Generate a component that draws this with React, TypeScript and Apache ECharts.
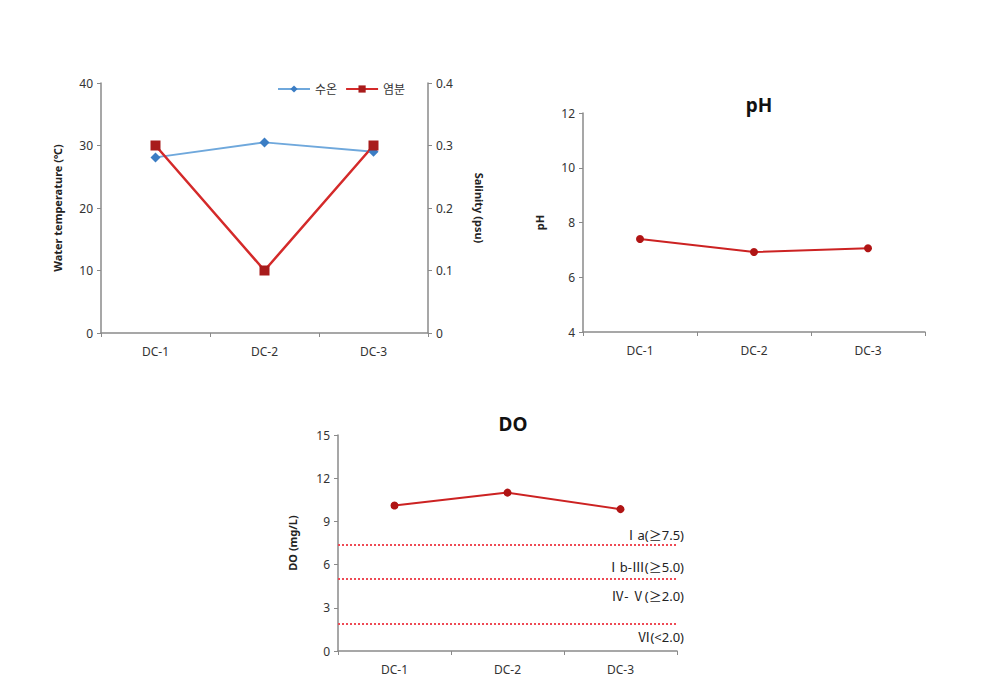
import React, { useEffect, useRef } from "react";
import * as echarts from "echarts";

const categories = ["DC-1", "DC-2", "DC-3"];
const waterTemp = [28.1, 30.5, 29.0];
const salinity = [0.3, 0.1, 0.3];
const phValues = [7.4, 6.92, 7.06];
const doValues = [10.1, 11.0, 9.85];
const doStandards = [7.4, 5.0, 1.9];
const doZoneLabels = ["Ⅰa(≥7.5)", "Ⅰb-Ⅲ(≥5.0)", "Ⅳ- Ⅴ(≥2.0)", "Ⅵ(<2.0)"];
const legendNames = ["수온", "염분"];

const FONT = "'Noto Sans', 'Noto Sans CJK KR', sans-serif";

export default function App() {
  const ref = useRef<HTMLDivElement>(null);
  useEffect(() => {
    if (!ref.current) return;
    const chart = echarts.init(ref.current, null, { renderer: "svg" });
    const axisLine = { show: true, lineStyle: { color: "#8a8a8a", width: 1.5 } };
    const axisLabel = { color: "#333", fontSize: 12, fontFamily: FONT };
    const catAxis = (gridIndex: number) => ({
      type: "category",
      gridIndex,
      data: categories,
      boundaryGap: true,
      axisLine,
      axisTick: { show: true, length: 4, inside: false, lineStyle: { color: "#8a8a8a" } },
      axisLabel: { ...axisLabel, margin: 12 },
    });
    const valAxis = (gridIndex: number, min: number, max: number, interval: number, name: string, nameGap: number, extra: any = {}) => ({
      type: "value",
      gridIndex,
      min,
      max,
      interval,
      name,
      nameLocation: "middle",
      nameGap,
      nameRotate: 90,
      nameTextStyle: { color: "#222", fontSize: 11, fontWeight: "bold", fontFamily: FONT },
      axisLine,
      axisTick: { show: true, length: 4, lineStyle: { color: "#8a8a8a" } },
      axisLabel,
      splitLine: { show: false },
      ...extra,
    });

    const lineSeries = (xi: number, yi: number, data: number[], name?: string) => ({
      type: "line",
      name,
      xAxisIndex: xi,
      yAxisIndex: yi,
      data,
      symbol: "circle",
      symbolSize: 8,
      lineStyle: { color: "#cc2222", width: 2 },
      itemStyle: { color: "#b01414" },
    });

    const dlabel = (text: string, position: string, distance: number) => ({
      show: true,
      formatter: text,
      position,
      distance: [-7, distance],
      color: "#222",
      fontSize: 13,
      fontFamily: FONT,
    });

    chart.setOption({
      animation: false,
      backgroundColor: "#ffffff",
      title: [
        { text: "pH", left: 754, top: 90, textAlign: "center", textStyle: { fontSize: 19, fontWeight: "bold", color: "#111", fontFamily: FONT } },
        { text: "DO", left: 508, top: 409, textAlign: "center", textStyle: { fontSize: 19, fontWeight: "bold", color: "#111", fontFamily: FONT } },
      ],
      legend: {
        left: 272,
        top: 78,
        itemWidth: 32,
        itemHeight: 9,
        itemGap: 8,
        textStyle: { color: "#333", fontSize: 12, fontFamily: FONT },
        data: legendNames,
      },
      grid: [
        { left: 101, top: 83, width: 327, height: 250 },
        { left: 583, top: 113, width: 342, height: 219 },
        { left: 338, top: 435, width: 339, height: 216 },
      ],
      xAxis: [catAxis(0), catAxis(1), catAxis(2)],
      yAxis: [
        valAxis(0, 0, 40, 10, "Water temperature (℃)", 38),
        valAxis(0, 0, 0.4, 0.1, "Salinity (psu)", 46, { position: "right", nameRotate: -90 }),
        valAxis(1, 4, 12, 2, "pH", 38),
        valAxis(2, 0, 15, 3, "DO (mg/L)", 40),
      ],
      series: [
        {
          type: "line",
          name: legendNames[0],
          xAxisIndex: 0,
          yAxisIndex: 0,
          data: waterTemp,
          symbol: "diamond",
          symbolSize: 10,
          lineStyle: { color: "#6fa8dc", width: 2 },
          itemStyle: { color: "#3b7dc4" },
        },
        {
          type: "line",
          name: legendNames[1],
          xAxisIndex: 0,
          yAxisIndex: 1,
          data: salinity,
          symbol: "rect",
          symbolSize: 10,
          lineStyle: { color: "#d42a2a", width: 2.5 },
          itemStyle: { color: "#a81b1b" },
        },
        lineSeries(1, 2, phValues),
        {
          ...lineSeries(2, 3, doValues),
          markLine: {
            silent: true,
            symbol: "none",
            lineStyle: { color: "#ee4a55", width: 2, type: "dotted" },
            data: [
              { yAxis: doStandards[0], label: dlabel(doZoneLabels[0], "insideEndTop", 3) },
              { yAxis: doStandards[1], label: dlabel(doZoneLabels[1], "insideEndTop", 6) },
              { yAxis: doStandards[1], lineStyle: { color: "rgba(255,255,255,0)", width: 0 }, label: dlabel(doZoneLabels[2], "insideEndBottom", 10) },
              { yAxis: doStandards[2], label: dlabel(doZoneLabels[3], "insideEndBottom", 7) },
            ],
          },
        },
      ],
    });
    return () => chart.dispose();
  }, []);
  return <div ref={ref} style={{ position: "fixed", left: 0, top: 0, width: 986, height: 687 }} />;
}
